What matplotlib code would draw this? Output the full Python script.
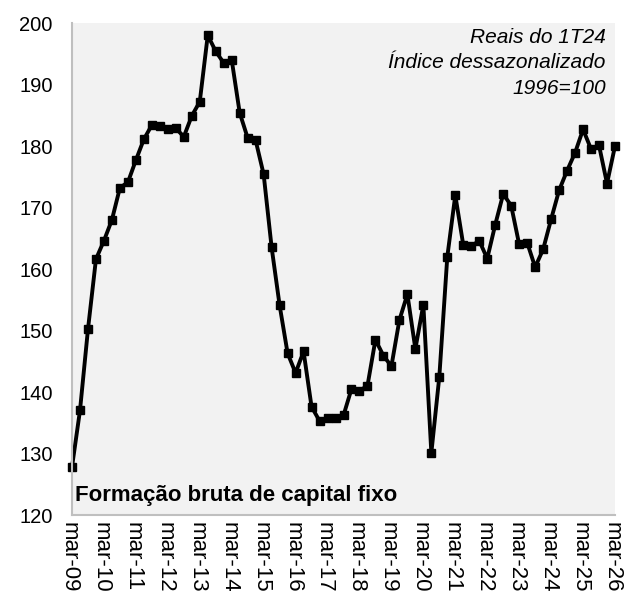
import matplotlib.pyplot as plt
import matplotlib.transforms as mtransforms
import numpy as np

# FBCF trimestral, mar-09 a mar-26 (indice dessazonalizado, 1996=100)
fbcf = [
    127.8, 137.0, 150.2, 161.6, 164.6, 168.0, 173.2, 174.1,
    177.7, 181.1, 183.4, 183.3, 182.7, 182.9, 181.5, 184.9,
    187.2, 198.0, 195.4, 193.5, 194.0, 185.4, 181.3, 180.9,
    175.4, 163.5, 154.1, 146.3, 143.1, 146.6, 137.6, 135.3,
    135.7, 135.7, 136.2, 140.5, 140.2, 141.0, 148.5, 145.9,
    144.2, 151.7, 155.9, 147.0, 154.2, 130.1, 142.5, 162.0,
    172.0, 163.9, 163.7, 164.6, 161.7, 167.2, 172.2, 170.3,
    164.0, 164.3, 160.3, 163.2, 168.1, 172.8, 176.0, 178.9,
    182.7, 179.5, 180.1, 173.9, 180.0,
]
tick_labels = [f"mar-{y:02d}" for y in range(9, 27)]
y_ticks = list(range(120, 201, 10))

plt.rcParams["font.family"] = ["Liberation Sans", "DejaVu Sans"]

fig = plt.figure(figsize=(6.25, 5.99), dpi=100)
ax = fig.add_axes([0.1152, 0.1402, 0.8688, 0.8214])
ax.set_facecolor("#F2F2F2")

x = np.arange(len(fbcf))
ax.plot(x, fbcf, color="black", linewidth=2.8, marker="s",
        markersize=6.3, clip_on=False)

ax.set_xlim(0, len(fbcf) - 1)
ax.set_ylim(120, 200)
ax.set_yticks(y_ticks)
ax.set_xticks(x[::4])
ax.set_xticklabels(tick_labels, rotation=270)
ax.tick_params(axis="y", length=0, pad=14, labelsize=14.5)
ax.tick_params(axis="x", length=0, pad=5, labelsize=16)

# rotated labels sit a little right of the tick; nudge them back
shift = mtransforms.ScaledTranslation(-3 / 100, 0, fig.dpi_scale_trans)
for lbl in ax.get_xticklabels():
    lbl.set_transform(lbl.get_transform() + shift)

for side in ["top", "right"]:
    ax.spines[side].set_visible(False)
for side in ["left", "bottom"]:
    ax.spines[side].set_color("#BFBFBF")
    ax.spines[side].set_linewidth(1.5)

ax.text(0.005, 0.018, "Formação bruta de capital fixo", transform=ax.transAxes,
        fontsize=16, fontweight="bold", ha="left", va="bottom")
ax.text(0.983, 0.99, "Reais do 1T24\nÍndice dessazonalizado\n1996=100",
        transform=ax.transAxes, fontsize=15, fontstyle="italic",
        ha="right", va="top", linespacing=1.42)

fig.savefig("out.png", dpi=100)
